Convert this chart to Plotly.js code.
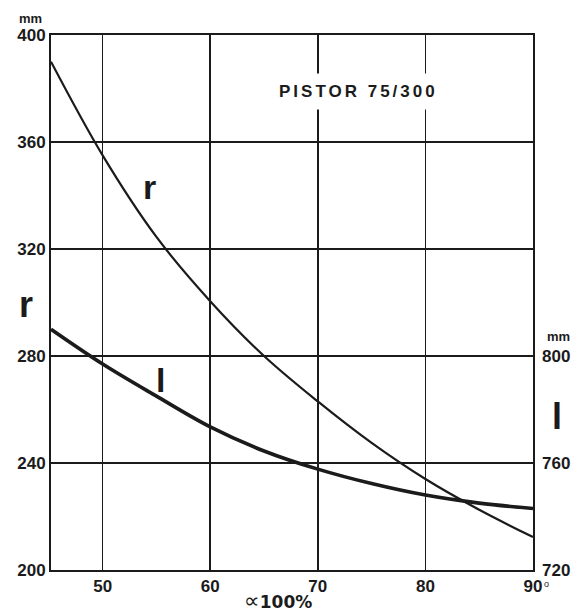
<!DOCTYPE html>
<html>
<head>
<meta charset="utf-8">
<script src="https://cdn.plot.ly/plotly-3.0.1.min.js"></script>
<style>html,body{margin:0;padding:0;background:#fff;}#chart{width:584px;height:612px;}</style>
</head>
<body>
<div id="chart"></div>
<script>
// alpha (100%) values
const alpha = [45.2, 50, 55, 60, 65, 70, 75, 80, 85, 90];
// r curve (mm, left axis)
const rValues = [390, 355, 324.5, 300.5, 280, 263, 247.5, 234, 222.5, 212.3];
// l curve (mm, right axis)
const lValues = [810, 797, 785, 773.5, 764.5, 757.7, 752.3, 748, 745, 743];

const xTicks = [50, 60, 70, 80, 90];
const xTickText = ['50', '60', '70', '80', '90'];
const rTicks = [200, 240, 280, 320, 360, 400];
const rTickText = ['200', '240', '280', '320', '360', '400'];
const lTicks = [720, 760, 800];
const lTickText = ['720', '760', '800'];

const ink = '#1b1b1b';
const FAM = 'Liberation Sans, Arial, sans-serif';
const tickFont = {family: FAM, size: 17, color: ink, weight: 'bold'};
const b = (arr) => arr.map(t => '<b>' + t + '</b>');

const traces = [
  {x: alpha, y: rValues, type: 'scatter', mode: 'lines', name: 'r',
   line: {color: ink, width: 2.2, shape: 'spline'}, yaxis: 'y', hoverinfo: 'skip'},
  {x: alpha, y: lValues, type: 'scatter', mode: 'lines', name: 'l',
   line: {color: ink, width: 3.6, shape: 'spline'}, yaxis: 'y2', hoverinfo: 'skip'}
];

const px = (x) => (x - 51) / 482;
const py = (y) => (570 - y) / 535;
const lab = (text, x, y, size, extra) => Object.assign({
  text: text, xref: 'paper', yref: 'paper', x: px(x), y: py(y),
  xanchor: 'center', yanchor: 'middle', showarrow: false,
  font: {family: FAM, size: size, color: ink, weight: 700}
}, extra || {});

const layout = {
  width: 584, height: 612,
  margin: {l: 51, r: 51, t: 35, b: 42},
  paper_bgcolor: '#fff', plot_bgcolor: '#fff',
  showlegend: false,
  xaxis: {
    range: [45.2, 90], tickvals: xTicks, ticktext: b(xTickText),
    showgrid: true, gridcolor: ink, gridwidth: 1.5,
    showline: true, linecolor: ink, linewidth: 2, mirror: true,
    ticks: '', zeroline: false, tickfont: tickFont
  },
  yaxis: {
    range: [200, 400], tickvals: rTicks, ticktext: b(rTickText),
    showgrid: true, gridcolor: ink, gridwidth: 1.5,
    showline: true, linecolor: ink, linewidth: 2, mirror: true,
    ticks: '', zeroline: false, tickfont: tickFont
  },
  yaxis2: {
    range: [720, 920], tickvals: lTicks, ticktext: b(lTickText), overlaying: 'y', side: 'right',
    showgrid: false, showline: false, ticks: '', zeroline: false, tickfont: tickFont,
    ticklabelstandoff: 8
  },
  annotations: [
    lab('<span style="letter-spacing:3px">PISTOR 75/300</span>', 358, 92, 17,
        {bgcolor: '#fff', borderpad: 8}),
    lab('r', 149, 187, 34),
    lab('l', 160, 380, 34),
    lab('r', 26, 304, 36),
    lab('l', 557, 416, 36),
    lab('mm', 30, 18, 13),
    lab('mm', 558, 336, 13),
    lab('o', 546, 584, 9, {font: {family: FAM, size: 9, color: ink}}),
    lab('∝<span style="font-size:17px"><b>100%</b></span>', 278, 600, 22,
        {font: {family: 'DejaVu Sans, sans-serif', size: 22, color: ink}})
  ]
};

Plotly.newPlot('chart', traces, layout, {staticPlot: true, displayModeBar: false});
</script>
</body>
</html>
